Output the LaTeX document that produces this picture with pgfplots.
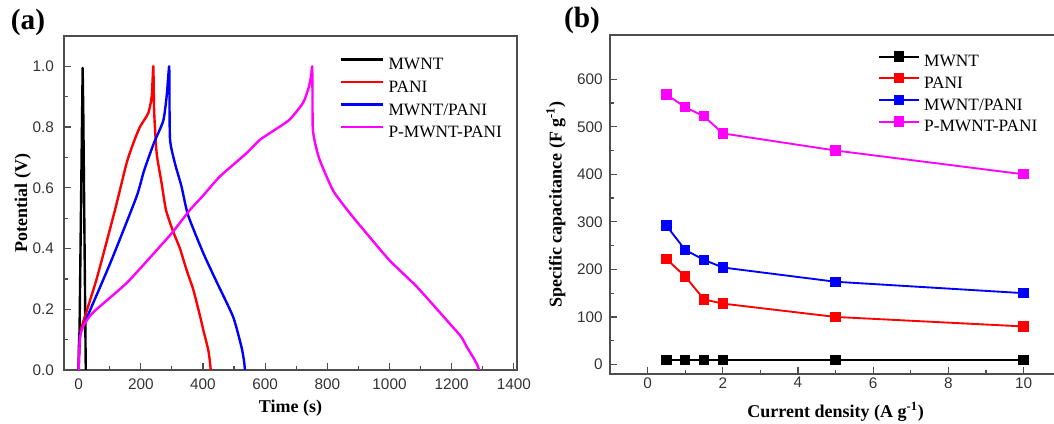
\documentclass[border=0pt]{standalone}
\usepackage{fontspec}
\setmainfont{Liberation Serif}
\newfontfamily\arial{Liberation Sans}
\usepackage{pgfplots}
\pgfplotsset{compat=1.18}
\definecolor{tickgray}{HTML}{333333}
\definecolor{axgray}{HTML}{4D4D4D}
\definecolor{mag}{HTML}{FF00FF}

\pgfplotsset{
  panel/.style={
    scale only axis, anchor=south west,
    axis line style={draw=axgray, line width=1pt},
    tick align=inside, tick pos=left,
    major tick length=5.5pt, minor tick length=3pt,
    tick style={draw=axgray, line width=0.9pt},
    minor x tick num=1, minor y tick num=1,
    /pgf/number format/assume math mode=true,
    /pgf/number format/1000 sep={},
    tick label style={font=\arial\fontsize{11.5}{13}\selectfont, text=tickgray},
    label style={font=\bfseries\fontsize{13.5}{16}\selectfont},
    legend cell align=left,
    legend style={draw=none, fill=none, font=\fontsize{13}{15}\selectfont,
      inner sep=0pt, row sep=0pt, column sep=3pt,
      nodes={inner sep=0pt, text height=12pt, text depth=4.9pt}},
  }
}

\begin{document}
\begin{tikzpicture}
\useasboundingbox (0,0) rectangle (790.5pt,318pt);
\clip (0,0) rectangle (790.5pt,318pt);

% (a) galvanostatic charge/discharge
\begin{axis}[panel, at={(48pt,40.5pt)}, width=339.75pt, height=250.5pt,
  xmin=-47, xmax=1410, ymin=0, ymax=1.1,
  xtick={0,200,400,600,800,1000,1200,1400},
  ytick={0,0.2,0.4,0.6,0.8,1.0},
  yticklabel style={/pgf/number format/fixed, /pgf/number format/fixed zerofill,
    /pgf/number format/precision=1, xshift=-4pt},
  xticklabel style={yshift=-3pt},
  xlabel={Time (s)}, ylabel={Potential (V)},
  xlabel style={at={(axis description cs:0.5,-0.1138)}, anchor=center},
  ylabel style={at={(axis description cs:-0.0912,0.5)}, anchor=center},
  no markers,
  every axis plot/.append style={line width=1.8pt, line join=round, smooth, tension=0.35},
  legend style={at={(axis description cs:0.609,0.947)}, anchor=north west},
  legend image code/.code={\draw[#1, sharp plot] (0pt,4.3pt) -- (31.5pt,4.3pt);},
]
\addplot[black, sharp plot] coordinates {(0,0) (1,0.08) (3,0.13) (13,0.995) (15,0.85) (23,0)};
\addlegendentry{MWNT}
\addplot[red] coordinates {(0,0) (2,0.07) (5,0.12) (10,0.143) (58,0.30) (117,0.527)
  (154,0.68) (176,0.747) (197,0.80) (224,0.846) (235,0.90) (240,1.0)
  (241,0.97) (243,0.85) (251,0.714) (267,0.615) (281,0.527) (304,0.456) (326,0.40)
  (347,0.33) (369,0.264) (390,0.18) (401,0.132) (417,0.066) (422,0.03) (425,0)};
\addlegendentry{PANI}
\addplot[blue] coordinates {(0,0) (2,0.07) (5,0.12) (15,0.145) (101,0.35) (186,0.57)
  (210,0.655) (242,0.747) (272,0.82) (283,0.90) (291,1.0)
  (292,0.95) (294,0.76) (310,0.68) (331,0.604) (352,0.51) (401,0.385) (444,0.29)
  (497,0.175) (524,0.075) (532,0.03) (535,0)};
\addlegendentry{MWNT/PANI}
\addplot[mag] coordinates {(0,0) (2,0.06) (5,0.11) (15,0.145) (47,0.19) (154,0.286)
  (261,0.406) (304,0.456) (358,0.527) (401,0.575) (454,0.637) (540,0.714) (583,0.758)
  (630,0.79) (679,0.825) (722,0.88) (740,0.93) (748,0.97) (751,1.0)
  (752,0.95) (753,0.80) (760,0.75) (776,0.69) (819,0.59) (872,0.517) (926,0.45)
  (1001,0.36) (1087,0.275) (1183,0.165) (1230,0.11) (1248,0.077) (1270,0.04)
  (1283,0.015) (1288,0)};
\addlegendentry{P-MWNT-PANI}
\end{axis}

% (b) specific capacitance vs current density
\begin{axis}[panel, at={(457.5pt,37.5pt)}, width=338.4pt, height=254.25pt,
  xmin=-1, xmax=11, ymin=-20, ymax=693,
  xtick={0,2,4,6,8,10}, ytick={0,100,200,300,400,500,600},
  yticklabel style={xshift=-2pt}, xticklabel style={yshift=1pt},
  xlabel={Current density (A g\textsuperscript{-1})},
  ylabel={Specific capacitance (F g\textsuperscript{-1})},
  xlabel style={at={(axis description cs:0.5,-0.112)}, anchor=center},
  ylabel style={at={(axis description cs:-0.1197,0.5)}, anchor=center},
  every axis plot/.append style={line width=1.4pt, mark=square*, mark size=3.2pt,
    mark options={solid}},
  legend style={at={(axis description cs:0.594,0.952)}, anchor=north west,
    nodes={text height=11.5pt, text depth=4.75pt}},
  legend image code/.code={\draw[#1, mark=none] (0pt,4.3pt) -- (30pt,4.3pt);
    \path[#1, only marks] plot coordinates {(15pt,4.3pt)};},
]
\addplot[black] coordinates {(0.5,10) (1,10) (1.5,10) (2,10) (5,10) (10,10)};
\addlegendentry{MWNT}
\addplot[red] coordinates {(0.5,222) (1,185) (1.5,137) (2,128) (5,100) (10,80)};
\addlegendentry{PANI}
\addplot[blue] coordinates {(0.5,292) (1,241) (1.5,220) (2,204) (5,174) (10,150)};
\addlegendentry{MWNT/PANI}
\addplot[mag] coordinates {(0.5,568) (1,541) (1.5,522) (2,486) (5,450) (10,400)};
\addlegendentry{P-MWNT-PANI}
\end{axis}

\node[font=\bfseries\fontsize{22}{24}\selectfont] at (21pt,301.5pt) {(a)};
\node[font=\bfseries\fontsize{22}{24}\selectfont] at (436.5pt,303pt) {(b)};
\end{tikzpicture}
\end{document}
